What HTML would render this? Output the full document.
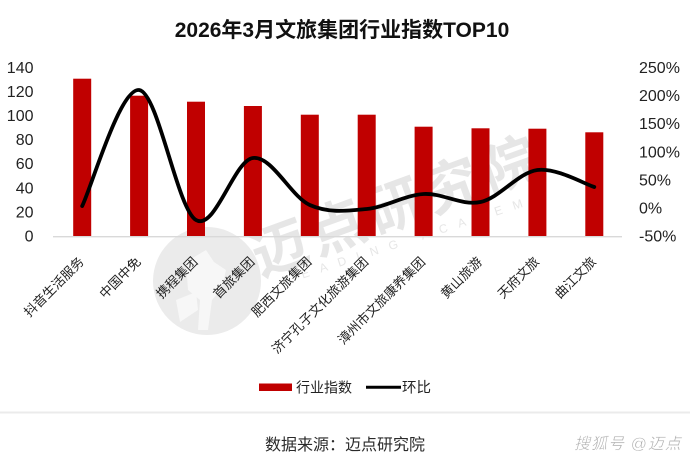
<!DOCTYPE html>
<html>
<head>
<meta charset="utf-8">
<style>
  html, body { margin:0; padding:0; background:#ffffff; }
  body { width:690px; height:464px; overflow:hidden; }
  svg { display:block; }
  text { font-family: "Liberation Sans", "Noto Sans CJK SC", sans-serif; }
</style>
</head>
<body>
<svg width="690" height="464" viewBox="0 0 690 464" xmlns="http://www.w3.org/2000/svg">
  <rect x="0" y="0" width="690" height="464" fill="#ffffff"/>

  <!-- Watermark -->
  <circle cx="207" cy="281" r="54" fill="#ebebeb"/>
  <path d="M186 262 L206 250 L214 262 L226 270 L222 288 L212 300 L208 330 L198 330 L200 300 L188 290 Z" fill="#f7f7f7"/>
  <path d="M176 300 L196 292 L198 310 L180 322 Z" fill="#f7f7f7"/>
  <text transform="translate(397,206) rotate(-20)" text-anchor="middle" dy="0.35em" font-size="56" font-weight="bold" letter-spacing="5" fill="#e6e6e6">迈点研究院</text>
  <text transform="translate(286,284) rotate(-18)" font-size="12" letter-spacing="11" fill="#e6e6e6">LEADING ACADEMY</text>

  <!-- Title -->
  <text x="342" y="37" text-anchor="middle" font-size="21" font-weight="bold" fill="#111">2026年3月文旅集团行业指数TOP10</text>

  <!-- Bars -->
  <g fill="#c00000">
    <rect x="73.2" y="78.7" width="18" height="157.8"/>
    <rect x="130.1" y="95.7" width="18" height="140.8"/>
    <rect x="187.0" y="101.7" width="18" height="134.8"/>
    <rect x="243.9" y="106" width="18" height="130.5"/>
    <rect x="300.8" y="114.7" width="18" height="121.8"/>
    <rect x="357.7" y="114.7" width="18" height="121.8"/>
    <rect x="414.6" y="126.7" width="18" height="109.8"/>
    <rect x="471.5" y="128.3" width="18" height="108.2"/>
    <rect x="528.4" y="128.7" width="18" height="107.8"/>
    <rect x="585.3" y="132.3" width="18" height="104.2"/>
  </g>

  <!-- X axis line -->
  <line x1="53" y1="236.7" x2="622" y2="236.7" stroke="#d9d9d9" stroke-width="1.3"/>

  <!-- Line series -->
  <path d="M82.2,206 C91.7,186.7 120.1,87.7 139.1,90
           C158.1,92.33 177.0,208.67 196.0,220
           C215.0,231.33 233.9,160.5 252.9,158
           C271.9,155.5 290.8,196.5 309.8,205
           C328.8,213.5 347.7,210.83 366.7,209
           C385.7,207.17 404.6,195.17 423.6,194
           C442.6,192.83 461.5,206 480.5,202
           C499.5,198 518.4,172.5 537.4,170
           C556.4,167.5 584.8,184.2 594.3,187"
        fill="none" stroke="#000" stroke-width="3.8" stroke-linecap="round" stroke-linejoin="round"/>

  <!-- Left axis labels -->
  <g font-size="16" fill="#222" text-anchor="end">
    <text x="33.5" y="72.8">140</text>
    <text x="33.5" y="96.9">120</text>
    <text x="33.5" y="121.0">100</text>
    <text x="33.5" y="145.1">80</text>
    <text x="33.5" y="169.2">60</text>
    <text x="33.5" y="193.3">40</text>
    <text x="33.5" y="217.4">20</text>
    <text x="33.5" y="241.5">0</text>
  </g>

  <!-- Right axis labels -->
  <g font-size="16" fill="#222">
    <text x="639" y="73.1">250%</text>
    <text x="639" y="101.2">200%</text>
    <text x="639" y="129.2">150%</text>
    <text x="639" y="157.3">100%</text>
    <text x="639" y="185.4">50%</text>
    <text x="639" y="213.4">0%</text>
    <text x="639" y="241.5">-50%</text>
  </g>

  <!-- Category labels -->
  <g font-size="13" fill="#222" text-anchor="end">
    <text transform="translate(81.2,259) rotate(-45)" dy="0.38em">抖音生活服务</text>
    <text transform="translate(138.1,259) rotate(-45)" dy="0.38em">中国中免</text>
    <text transform="translate(195.0,259) rotate(-45)" dy="0.38em">携程集团</text>
    <text transform="translate(251.9,259) rotate(-45)" dy="0.38em">首旅集团</text>
    <text transform="translate(308.8,259) rotate(-45)" dy="0.38em">肥西文旅集团</text>
    <text transform="translate(365.7,259) rotate(-45)" dy="0.38em">济宁孔子文化旅游集团</text>
    <text transform="translate(422.6,259) rotate(-45)" dy="0.38em">漳州市文旅康养集团</text>
    <text transform="translate(479.5,259) rotate(-45)" dy="0.38em">黄山旅游</text>
    <text transform="translate(536.4,259) rotate(-45)" dy="0.38em">天府文旅</text>
    <text transform="translate(593.3,259) rotate(-45)" dy="0.38em">曲江文旅</text>
  </g>

  <!-- Legend -->
  <rect x="259" y="383.5" width="33" height="7.5" fill="#c00000"/>
  <text x="296" y="392.6" font-size="14" fill="#222">行业指数</text>
  <line x1="366" y1="387.3" x2="401" y2="387.3" stroke="#000" stroke-width="3"/>
  <text x="402" y="392.6" font-size="14.5" fill="#222">环比</text>

  <!-- Separator -->
  <line x1="0" y1="412.5" x2="690" y2="412.5" stroke="#ebebeb" stroke-width="2"/>

  <!-- Footer -->
  <text x="265" y="450" font-size="16" fill="#2a2a2a">数据来源：迈点研究院</text>
  <text x="574" y="449" font-size="16" font-style="italic" fill="#aaaaaa" stroke="#ffffff" stroke-width="0.4" letter-spacing="1">搜狐号 @迈点</text>
</svg>
</body>
</html>
